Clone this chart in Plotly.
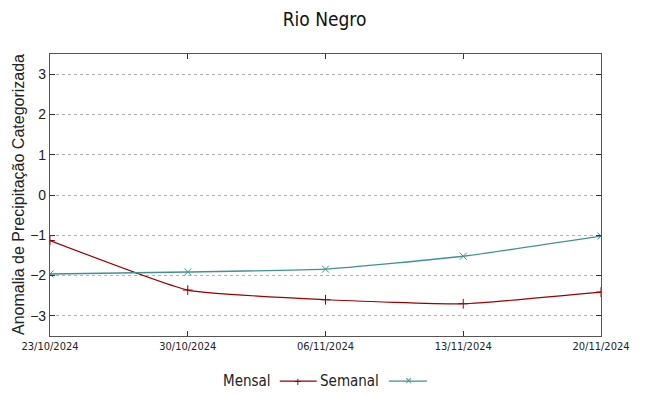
import plotly.graph_objects as go

dates = ["23/10/2024", "30/10/2024", "06/11/2024", "13/11/2024", "20/11/2024"]
mensal = [-1.13, -2.36, -2.60, -2.70, -2.41]
semanal = [-1.96, -1.91, -1.84, -1.52, -1.02]
y_ticks = [-3, -2, -1, 0, 1, 2, 3]

RED = "#9a0000"
TEAL = "#3f9292"
NARROW = "Liberation Sans Narrow, DejaVu Sans Condensed, Arial Narrow, sans-serif"
SANS = "Liberation Sans, Arial, sans-serif"

fig = go.Figure()
fig.add_trace(go.Scatter(x=dates, y=mensal, mode="lines+markers", name="Mensal",
                         line=dict(color=RED, width=1.2, shape="spline", smoothing=0.4),
                         marker=dict(symbol="cross-thin", size=7, line=dict(color=RED, width=1)),
                         showlegend=False))
fig.add_trace(go.Scatter(x=dates, y=semanal, mode="lines+markers", name="Semanal",
                         line=dict(color=TEAL, width=1.4, shape="spline", smoothing=0.4),
                         marker=dict(symbol="x-thin", size=7, line=dict(color=TEAL, width=1)),
                         showlegend=False))

axcommon = dict(showline=True, linecolor="#555555", linewidth=1.2, mirror="ticks",
                ticks="inside", ticklen=5, tickcolor="#333333", zeroline=False,
                automargin=False)

fig.update_xaxes(type="category", range=[0, 4], showgrid=False,
                 tickfont=dict(family=NARROW, size=11, color="#222"), **axcommon)
fig.update_yaxes(range=[-3.5, 3.5], tickvals=y_ticks, showgrid=True,
                 gridcolor="#b0b0b0", griddash="dot", gridwidth=1,
                 tickfont=dict(family=SANS, size=14, color="#222"),
                 ticksuffix="\u00a0",
                 **axcommon)

# y-axis title
fig.add_annotation(x=-0.058, y=0.5, xref="paper", yref="paper",
                   text="Anomalia de Precipitação Categorizada", showarrow=False,
                   textangle=-90, xanchor="center", yanchor="middle",
                   font=dict(family=SANS, size=16, color="#222"))

# custom legend (text before sample, gnuplot style)
ly = -0.16
fig.add_annotation(x=0.404, y=ly, xref="paper", yref="paper", text="Mensal", showarrow=False,
                   xanchor="right", yanchor="middle", font=dict(family=NARROW, size=15, color="#222"))
fig.add_shape(type="line", xref="paper", yref="paper", x0=0.417, x1=0.484, y0=ly, y1=ly,
              line=dict(color=RED, width=1.2))
fig.add_annotation(x=0.4505, y=ly, xref="paper", yref="paper", text="+", showarrow=False,
                   xanchor="center", yanchor="middle", font=dict(family=SANS, size=13, color=RED))
fig.add_annotation(x=0.600, y=ly, xref="paper", yref="paper", text="Semanal", showarrow=False,
                   xanchor="right", yanchor="middle", font=dict(family=NARROW, size=15, color="#222"))
fig.add_shape(type="line", xref="paper", yref="paper", x0=0.615, x1=0.684, y0=ly, y1=ly,
              line=dict(color=TEAL, width=1.2))
fig.add_annotation(x=0.650, y=ly, xref="paper", yref="paper", text="×", showarrow=False,
                   xanchor="center", yanchor="middle", font=dict(family=SANS, size=12, color=TEAL))

fig.update_layout(
    width=649, height=396,
    margin=dict(l=50, r=48, t=54, b=60),
    paper_bgcolor="white", plot_bgcolor="white",
    title=dict(text="Rio Negro", x=0.5, xanchor="center", y=0.952, yanchor="middle",
               font=dict(family=NARROW, size=19, color="#111")),
)

fig.write_html("out.html", config={"displayModeBar": False},
               post_script="document.body.style.margin='0';document.body.style.overflow='hidden';")
